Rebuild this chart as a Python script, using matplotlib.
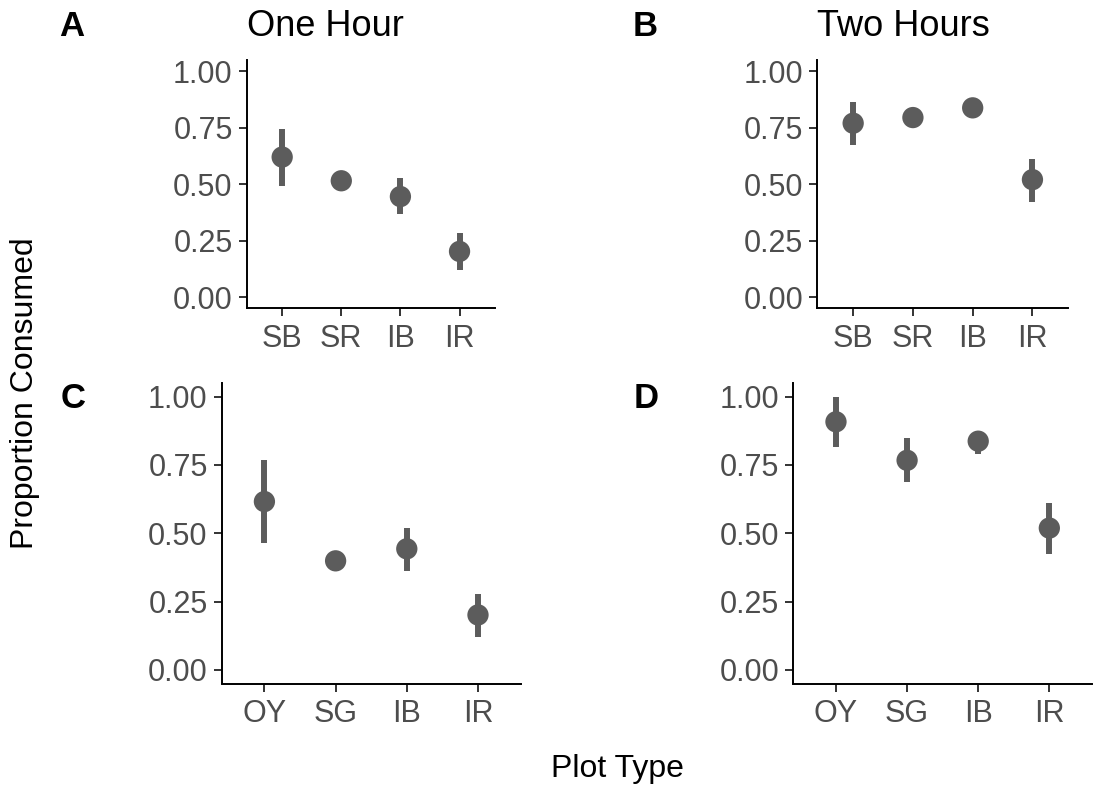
import matplotlib
matplotlib.use("Agg")
import matplotlib.pyplot as plt

plt.rcParams["font.family"] = ["Liberation Sans", "DejaVu Sans"]

W, H = 1094, 789

# ---- data ----
cats_top = ["SB", "SR", "IB", "IR"]
cats_bot = ["OY", "SG", "IB", "IR"]

a_mean = [0.62, 0.515, 0.445, 0.202]
a_lo = [0.494, 0.515, 0.366, 0.121]
a_hi = [0.743, 0.515, 0.528, 0.282]

b_mean = [0.770, 0.795, 0.838, 0.520]
b_lo = [0.674, 0.795, 0.838, 0.422]
b_hi = [0.865, 0.795, 0.838, 0.613]

c_mean = [0.616, 0.399, 0.443, 0.201]
c_lo = [0.464, 0.399, 0.362, 0.120]
c_hi = [0.768, 0.399, 0.521, 0.277]

d_mean = [0.908, 0.767, 0.837, 0.519]
d_lo = [0.816, 0.689, 0.791, 0.423]
d_hi = [1.000, 0.847, 0.873, 0.611]

yticks = [0.0, 0.25, 0.5, 0.75, 1.0]
ytick_labels = ["0.00", "0.25", "0.50", "0.75", "1.00"]

PT = "#5c5c5c"
TXT = "#4d4d4d"

fig = plt.figure(figsize=(W / 100, H / 100), dpi=100)


def px_axes(left, top, right, bottom):
    return fig.add_axes([left / W, 1 - bottom / H, (right - left) / W, (bottom - top) / H])


def panel(ax, cats, mean, lo, hi):
    x = list(range(1, len(cats) + 1))
    for xi, m, l, h in zip(x, mean, lo, hi):
        ax.plot([xi, xi], [l, h], color=PT, lw=4.3, solid_capstyle="butt", zorder=2)
    ax.scatter(x, mean, s=235, color=PT, edgecolors="none", zorder=3)
    ax.set_xlim(0.4, len(cats) + 0.6)
    ax.set_ylim(-0.05, 1.05)
    ax.set_xticks(x)
    ax.set_xticklabels(cats)
    ax.set_yticks(yticks)
    ax.set_yticklabels(ytick_labels)
    for s in ["top", "right"]:
        ax.spines[s].set_visible(False)
    for s in ["left", "bottom"]:
        ax.spines[s].set_linewidth(1.4)
        ax.spines[s].set_color("black")
    ax.tick_params(axis="both", length=5.8, width=1.4, color="#333333",
                   labelsize=22, labelcolor=TXT)
    ax.tick_params(axis="x", pad=5.5)
    ax.tick_params(axis="y", pad=4.3)


axA = px_axes(246.7, 60, 495, 308.3)
axB = px_axes(817.3, 60, 1068.3, 308.3)
axC = px_axes(221.7, 383, 520.7, 683.5)
axD = px_axes(793.3, 383, 1092, 683.5)

panel(axA, cats_top, a_mean, a_lo, a_hi)
panel(axB, cats_top, b_mean, b_lo, b_hi)
panel(axC, cats_bot, c_mean, c_lo, c_hi)
panel(axD, cats_bot, d_mean, d_lo, d_hi)

axA.set_title("One Hour", fontsize=26, pad=17, loc="left")
axB.set_title("Two Hours", fontsize=26, pad=17, loc="left")

for lab, xx, yy in [("A", 72, 36), ("B", 645, 36), ("C", 73, 408.3), ("D", 646, 408)]:
    fig.text(xx / W, 1 - yy / H, lab, fontsize=25, weight="bold", ha="center", va="baseline")

fig.text(33.3 / W, 1 - 393 / H, "Proportion Consumed", rotation=90, fontsize=23,
         ha="center", va="baseline", rotation_mode="anchor")
fig.text(617.5 / W, 1 - 776.7 / H, "Plot Type", fontsize=23, ha="center", va="baseline")

fig.savefig("out.png", dpi=100)
